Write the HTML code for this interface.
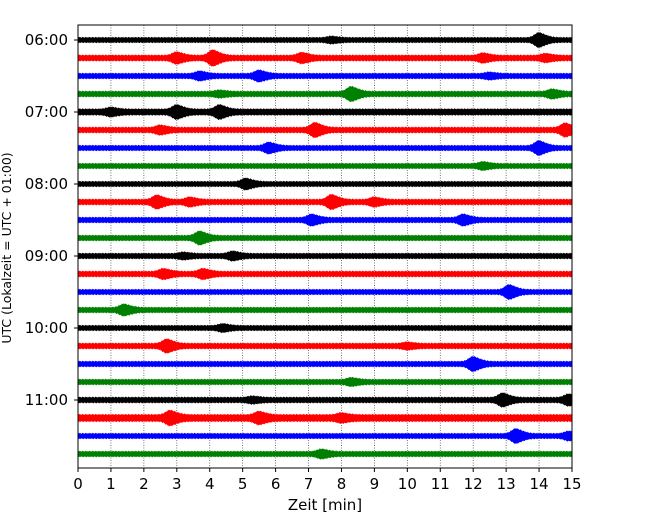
<!DOCTYPE html>
<html><head><meta charset="utf-8"><style>
body{margin:0;background:#fff}
svg text{font-family:"DejaVu Sans","Liberation Sans",sans-serif}
</style></head><body>
<svg id="chart" width="650" height="520" viewBox="0 0 650 520"></svg>
<script>
const hourLabels=["06:00","07:00","08:00","09:00","10:00","11:00"];
const xTicks=[0,1,2,3,4,5,6,7,8,9,10,11,12,13,14,15];
const colors=["#000000","#ff0000","#0000ff","#008000"];
const noiseLevels=[2.7,3.0,2.8,2.9,3.2,2.9,2.7,2.7,2.7,2.9,2.8,2.8,2.8,2.9,2.7,2.8,2.7,2.9,2.8,2.8,2.9,3.6,2.7,2.8];
// events per trace: [time_min, amplitude_px]
const events=[
 [[14.0,5],[7.7,1.5]],
 [[3.0,3.5],[4.1,5.5],[6.8,3],[12.3,2.5],[14.2,2]],
 [[3.7,2.5],[5.5,3.5],[12.5,1.5]],
 [[8.3,5],[14.4,2.5],[4.3,1.5]],
 [[3.0,4.5],[4.3,4.5],[1.0,2]],
 [[2.5,2.5],[7.2,5],[14.8,4.5]],
 [[5.8,3.5],[14.0,5]],
 [[12.3,2]],
 [[5.1,3.5]],
 [[2.4,4.5],[3.4,2.5],[7.7,5],[9.0,2.5]],
 [[7.1,3.5],[11.7,3.5]],
 [[3.7,4.5]],
 [[4.7,2.5],[3.2,1.5]],
 [[2.6,3],[3.8,3]],
 [[13.1,5]],
 [[1.4,3.5]],
 [[4.4,2]],
 [[2.7,4.5],[10.0,1.5]],
 [[12.0,5]],
 [[8.3,2]],
 [[12.9,4.5],[14.9,3.5],[5.3,1.5]],
 [[2.8,4.5],[5.5,3.5],[8.0,2]],
 [[13.3,5],[14.9,2.5]],
 [[7.4,2.5]]
];
const NS="http://www.w3.org/2000/svg";
const svg=document.getElementById('chart');
const L=78,R=572,T=25,B=468;
const xS=t=>L+(t/15)*(R-L);
const yS=i=>40+i*18;
function el(tag,attrs,parent){const e=document.createElementNS(NS,tag);for(const k in attrs)e.setAttribute(k,attrs[k]);(parent||svg).appendChild(e);return e;}
xTicks.forEach(t=>{
 const g=el('line',{x1:xS(t),x2:xS(t),y1:T,y2:B,stroke:'#555','stroke-width':0.8,'stroke-dasharray':'1,1.5'});
 
 
});
events.forEach((evs,i)=>{
 const y0=yS(i),n=noiseLevels[i];
 const up=[],dn=[];
 for(let t=0;t<=15.0001;t+=0.02){
  let a=n;
  evs.forEach(([t0,amp])=>{
   const d=t-t0;
   a+= d<0 ? amp*Math.exp(-(d/0.18)*(d/0.18)) : amp*Math.exp(-(d/0.35)*(d/0.35)-d/0.6);
  });
  const k=Math.round(t*50);
  const wu=((k*7)%5-2)*0.3, wd=((k*3)%5-2)*0.3;
  up.push(xS(t).toFixed(1)+','+(y0-a-wu).toFixed(1));
  dn.unshift(xS(t).toFixed(1)+','+(y0+a+wd).toFixed(1));
 }
 const p=el('polygon',{points:up.concat(dn).join(' '),fill:colors[i%4]});
 
 
});
const fr=el('rect',{x:L,y:T,width:R-L,height:B-T,fill:'none',stroke:'#000','stroke-width':1});


xTicks.forEach(t=>{
 el('line',{x1:xS(t),x2:xS(t),y1:B,y2:B+4,stroke:'#000'});
 const tx=el('text',{x:xS(t),y:B+21,'text-anchor':'middle','font-size':15});
 tx.textContent=t;
 
 
});
hourLabels.forEach((h,k)=>{
 const y=yS(k*4);
 el('line',{x1:L-4,x2:L,y1:y,y2:y,stroke:'#000'});
 const tx=el('text',{x:L-10,y:y+5,'text-anchor':'end','font-size':15});
 tx.textContent=h;
 
 
});
const xl=el('text',{x:(L+R)/2,y:510,'text-anchor':'middle','font-size':15});
xl.setAttribute('xml:space','preserve');
xl.textContent='Zeit  [min]';


const yl=el('text',{x:0,y:0,'text-anchor':'middle','font-size':12.5,transform:'translate(11,248) rotate(-90)'});
yl.textContent='UTC (Lokalzeit = UTC + 01:00)';


</script>
</body></html>
